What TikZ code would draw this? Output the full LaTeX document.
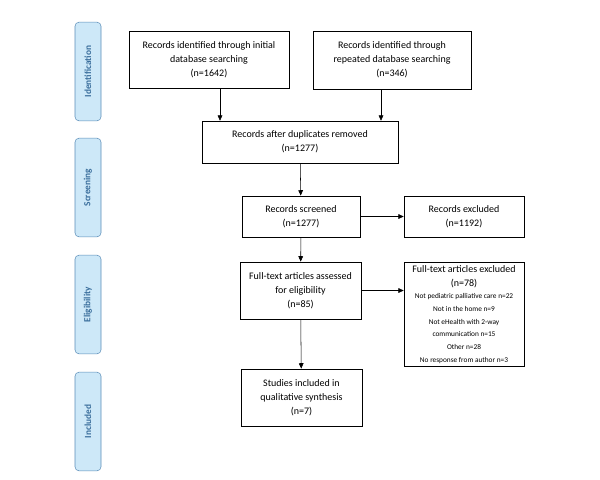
\documentclass[tikz,border=0pt]{standalone}
\usepackage{fontspec}
\setmainfont{Carlito}
\usetikzlibrary{arrows.meta, positioning}
\definecolor{phasefill}{HTML}{CDE8F8}
\definecolor{phaseline}{HTML}{5B8DB8}
\definecolor{phasetext}{HTML}{3A6E9C}
\tikzset{
  box/.style={draw, thin, fill=white, align=center, font=\fontsize{7.5}{10.5}\selectfont, inner sep=2pt},
  phase/.style={draw=phaseline, fill=phasefill, rounded corners=3pt, minimum height=19.5pt, minimum width=74pt, font=\fontsize{7}{8}\selectfont\bfseries, text=phasetext, rotate=90},
  flow/.style={-{Triangle[length=4pt,width=3.5pt]}, thin}
}
\begin{document}
\begin{tikzpicture}[x=0.75pt, y=-0.75pt]
  \useasboundingbox (0,0) rectangle (600,479);

  % Phases
  \node[phase] (ident) at (88,71.5) {Identification};
  \node[phase] (screen) at (88,187.5) {Screening};
  \node[phase] (elig) at (88,304.5) {Eligibility};
  \node[phase] (incl) at (88,421.5) {Included};

  % Boxes
  \node[box, minimum width=120pt, minimum height=43pt] (initial) at (209,59.5) {Records identified through initial\\database searching\\(n=1642)};
  \node[box, minimum width=118.5pt, minimum height=43.5pt] (repeated) at (392,60) {Records identified through\\repeated database searching\\(n=346)};
  \node[box, minimum width=147pt, minimum height=31.5pt] (dupl) at (300,142) {Records after duplicates removed\\(n=1277)};
  \node[box, minimum width=88.5pt, minimum height=31pt] (screened) at (301,216.5) {Records screened\\(n=1277)};
  \node[box, minimum width=90pt, minimum height=31pt] (recexcl) at (464,216.5) {Records excluded\\(n=1192)};
  \node[box, minimum width=91pt, minimum height=43pt] (fulltext) at (300.5,290.5) {Full-text articles assessed\\for eligibility\\(n=85)};
  \node[box, minimum width=90pt, minimum height=78pt, anchor=north, align=center] (fullexcl) at (464,262) {Full-text articles excluded\\(n=78)\\[-1pt]
    {\fontsize{5.5}{7.5}\selectfont Not pediatric palliative care n=22}\\[-1pt]
    {\fontsize{5.5}{7.5}\selectfont Not in the home n=9}\\[-1pt]
    {\fontsize{5.5}{7.5}\selectfont Not eHealth with 2-way}\\[-1pt]
    {\fontsize{5.5}{7.5}\selectfont communication n=15}\\[-1pt]
    {\fontsize{5.5}{7.5}\selectfont Other n=28}\\[-1pt]
    {\fontsize{5.5}{7.5}\selectfont No response from author n=3}};
  \node[box, minimum width=91pt, minimum height=43pt] (studies) at (301.5,397.5) {Studies included in\\qualitative synthesis\\(n=7)};

  % Arrows
  \draw[flow] (initial.south -| 220,0) -- (dupl.north -| 220,0);
  \draw[flow] (repeated.south -| 381,0) -- (dupl.north -| 381,0);
  \draw[flow] (dupl) -- (screened);
  \draw[flow] (screened) -- (recexcl);
  \draw[flow] (screened) -- (fulltext);
  \draw[flow] (fulltext.east) -- (fulltext.east -| fullexcl.west);
  \draw[flow] (fulltext) -- (studies);
\end{tikzpicture}
\end{document}
